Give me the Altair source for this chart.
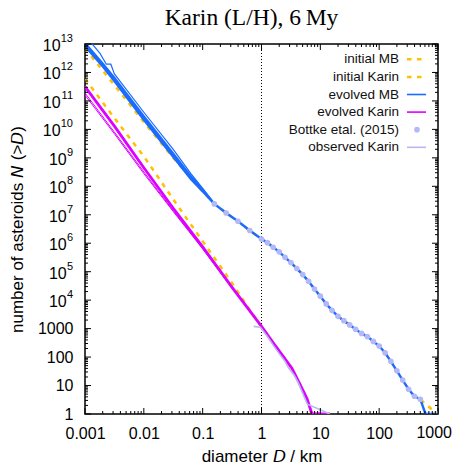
import altair as alt
import pandas as pd

# ---------------- data ----------------
bottke_D = [0.158, 0.251, 0.398, 0.631, 1.0, 1.26, 1.58, 2.0, 2.51, 3.16, 3.98, 5.01, 6.31, 7.94,
            10.0, 12.6, 15.8, 20.0, 25.1, 31.6, 39.8, 50.1, 63.1, 79.4,
            100, 126, 158, 200, 251, 316, 398, 501, 966]
bottke_N = [2.4e7, 1.15e7, 5.9e6, 2.8e6, 1.41e6, 1.05e6, 7.2e5, 5.0e5, 3.2e5, 2.1e5, 1.29e5, 7.9e4, 4.6e4, 2.45e4,
            1.38e4, 7400, 4400, 2700, 1900, 1350, 950, 680, 525, 355,
            245, 141, 71, 33, 15.5, 7.4, 4.2, 3.3, 1]

init_mb_D = [0.001, 0.00316, 0.01, 0.0316, 0.1] + bottke_D
init_mb_N = [7.0e12, 3.6e11, 1.8e10, 1.0e9, 6.5e7] + bottke_N

init_karin_D = [0.001, 0.00316, 0.01, 0.0316, 0.1, 0.316, 0.631, 1.0, 1.58, 2.37, 3.3, 4.47, 5.92, 7.2, 14.5]
init_karin_N = [6.0e11, 2.5e10, 1.12e9, 3.5e7, 1.17e6, 4.0e4, 4500, 1200, 316, 102, 40, 11.5, 3.5, 1, 1]

evo_mb_D = [0.001, 0.002, 0.00316, 0.01, 0.0316, 0.0631, 0.1] + bottke_D[:-1] + [613, 980]
evo_mb_N = [9.5e12, 1.85e12, 5.75e11, 2.5e10, 1.26e9, 2.0e8, 7.1e7] + bottke_N[:-1] + [1, 1]

# other evolved-MB runs (small sizes only, they merge with the main run near 0.16 km)
evo_mb_runs_D = [0.001, 0.002, 0.00316, 0.01, 0.0316, 0.0631, 0.1, 0.158]
evo_mb_run3_N = [8.1e12, 1.6e12, 4.9e11, 2.1e10, 1.07e9, 1.75e8, 6.5e7, 2.4e7]
evo_mb_run4_N = [1.1e13, 2.1e12, 6.6e11, 2.9e10, 1.45e9, 2.3e8, 7.8e7, 2.4e7]

evo_mb2_D = [0.001, 0.0018, 0.0023, 0.00275, 0.00316, 0.01, 0.0316, 0.0631, 0.1, 0.158]
evo_mb2_N = [2.0e13, 4.7e12, 1.95e12, 1.95e12, 8.9e11, 4.0e10, 2.0e9, 2.8e8, 8.5e7, 2.5e7]

evo_karin_D = [0.001, 0.00316, 0.01, 0.0316, 0.1, 0.316, 1.0, 1.58, 2.37, 3.3, 4.47, 5.92, 7.2, 14.5]
evo_karin_N = [3.2e11, 1.3e10, 4.5e8, 1.7e7, 7.4e5, 2.8e4, 1200, 316, 102, 40, 11.5, 3.5, 1, 1]

evo_karin2_D = [0.001, 0.00316, 0.01, 0.0316, 0.1, 0.316, 1.0]
evo_karin2_N = [1.6e11, 7.0e9, 2.8e8, 1.3e7, 6.3e5, 2.6e4, 1200]
evo_karin3_N = [1.9e11, 8.0e9, 3.2e8, 1.4e7, 6.6e5, 2.7e4, 1200]

obs_karin_D = [0.734, 0.955, 1.26, 1.58, 2.0, 2.51, 2.88, 3.55, 4.17, 4.9, 6.03, 14.5]
obs_karin_N = [1200, 1120, 525, 263, 132, 71, 42, 24, 13.2, 6.0, 2.2, 1]

legend_labels = ["initial MB", "initial Karin", "evolved MB", "evolved Karin",
                 "Bottke etal. (2015)", "observed Karin"]
legend_kinds = ["dash", "dash", "line", "line", "point", "line"]

title_text = "Karin (L/H), 6\u2009My"
x_tick_values = [0.001, 0.01, 0.1, 1, 10, 100, 1000]
y_plain_values = [1, 10, 100, 1000]
y_pow_values = [1e4, 1e5, 1e6, 1e7, 1e8, 1e9, 1e10, 1e11, 1e12, 1e13]
y_pow_exps = ["4", "5", "6", "7", "8", "9", "10", "11", "12", "13"]

# ---------------- styles ----------------
YEL = "#ffc000"
BLUE = "#1a6cff"
MAG = "#dc00ff"
LAV = "#b4b8f6"
LAVL = "#b8b8f0"
legend_colors = [YEL, YEL, BLUE, MAG, LAV, LAVL]
FONT = "Liberation Sans"
W, H = 353, 370

xs = alt.Scale(type="log", domain=[0.001, 1000])
ys = alt.Scale(type="log", domain=[1, 1e13])
x_title = "diameter 𝘋 / km"
y_title = "number of asteroids 𝘕 (>𝘋)"
x_axis = alt.Axis(values=x_tick_values, labelExpr="datum.value >= 1000 ? '' : format(datum.value, '~g')",
                  ticks=False, tickSize=0,
                  domain=False, grid=False, labelFontSize=16, labelPadding=11, titleFontSize=17,
                  titleFontWeight="normal", titlePadding=7, labelFlush=False)
y_axis = alt.Axis(values=y_plain_values, format="d", ticks=False, tickSize=0, domain=False, grid=False,
                  labelFontSize=16, labelPadding=12, titleFontSize=17, titleFontWeight="normal",
                  titlePadding=11)


def X():
    return alt.X("D:Q", scale=xs, axis=x_axis, title=x_title)


def Y():
    return alt.Y("N:Q", scale=ys, axis=y_axis, title=y_title)


def df_of(D, N, run="a"):
    return pd.DataFrame({"D": D, "N": N, "run": run})


def line(df, color, width, dash=None):
    kw = dict(color=color, strokeWidth=width, clip=True)
    if dash is not None:
        kw["strokeDash"] = dash
    return alt.Chart(df).mark_line(**kw).encode(x=X(), y=Y(), detail="run:N")


layers = []
# dotted line at D = 1 km
layers.append(alt.Chart(pd.DataFrame({"D": [1]})).mark_rule(color="black", strokeDash=[1, 2], strokeWidth=1)
              .encode(x=X(), y=alt.value(0), y2=alt.value(H)))

layers.append(line(df_of(init_mb_D, init_mb_N), YEL, 2.5, [4.5, 5.5]))
layers.append(line(df_of(init_karin_D, init_karin_N), YEL, 2.5, [4.5, 5.5]))
layers.append(line(df_of(evo_mb2_D, evo_mb2_N), BLUE, 1.2))
layers.append(line(pd.concat([df_of(evo_mb_runs_D, evo_mb_run3_N, "c"),
                              df_of(evo_mb_runs_D, evo_mb_run4_N, "d")]), BLUE, 2.0))
layers.append(line(df_of(evo_mb_D, evo_mb_N), BLUE, 2.4))
layers.append(line(pd.concat([df_of(evo_karin2_D, evo_karin2_N, "b"),
                              df_of(evo_karin2_D, evo_karin3_N, "c")]), MAG, 1.0))
layers.append(line(df_of(evo_karin_D, evo_karin_N), MAG, 2.8))
layers.append(alt.Chart(df_of(bottke_D, bottke_N)).mark_circle(color=LAV, size=32, opacity=1, clip=True)
              .encode(x=X(), y=Y()))
layers.append(line(df_of(obs_karin_D, obs_karin_N), LAVL, 1.6))

# inward ticks on all four sides
x_minor = [k * 10.0 ** e for e in range(-3, 3) for k in range(2, 10)]
y_major = [10.0 ** e for e in range(0, 14)]
y_minor = [k * 10.0 ** e for e in range(0, 13) for k in range(2, 10)]
for vals, ln in ((x_tick_values, 6), (x_minor, 3)):
    d = pd.DataFrame({"D": vals})
    layers.append(alt.Chart(d).mark_rule(color="black", strokeWidth=1)
                  .encode(x=X(), y=alt.value(H), y2=alt.value(H - ln)))
    layers.append(alt.Chart(d).mark_rule(color="black", strokeWidth=1)
                  .encode(x=X(), y=alt.value(0), y2=alt.value(ln)))
for vals, ln in ((y_major, 6), (y_minor, 3)):
    d = pd.DataFrame({"N": vals})
    layers.append(alt.Chart(d).mark_rule(color="black", strokeWidth=1)
                  .encode(y=Y(), x=alt.value(0), x2=alt.value(ln)))
    layers.append(alt.Chart(d).mark_rule(color="black", strokeWidth=1)
                  .encode(y=Y(), x=alt.value(W), x2=alt.value(W - ln)))

# last x label ("1000") kept inside the page
layers.append(alt.Chart(pd.DataFrame({"D": [1000]})).mark_text(
    align="right", baseline="top", fontSize=16, font=FONT, dx=14, color="black")
    .encode(x=X(), y=alt.value(H + 11), text=alt.value("1000")))

# power-of-ten labels with superscripts
pow_df = pd.DataFrame({"N": y_pow_values, "e": y_pow_exps})
layers.append(alt.Chart(pow_df).transform_filter("length(datum.e) == 1")
              .mark_text(align="right", baseline="middle", fontSize=16, font=FONT, dy=2)
              .encode(y=Y(), x=alt.value(-12 - 6.3), text=alt.value("10")))
layers.append(alt.Chart(pow_df).transform_filter("length(datum.e) == 2")
              .mark_text(align="right", baseline="middle", fontSize=16, font=FONT, dy=2)
              .encode(y=Y(), x=alt.value(-12 - 12.4), text=alt.value("10")))
layers.append(alt.Chart(pow_df)
              .mark_text(align="right", baseline="middle", fontSize=11, font=FONT, dy=-5)
              .encode(y=Y(), x=alt.value(-12), text="e:N"))

# chart title (serif), placed just above the frame
layers.append(alt.Chart(pd.DataFrame({"t": [title_text]})).mark_text(
    align="center", baseline="alphabetic", fontSize=23.5, font="Liberation Serif", color="black")
    .encode(x=alt.value(W / 2 - 10), y=alt.value(-19), text="t:N"))

data_layer = alt.layer(*layers)

# legend (top right, symbols on the right of the labels)
leg_df = pd.DataFrame({"label": legend_labels, "row": list(range(len(legend_labels))),
                       "color": legend_colors, "kind": legend_kinds})
leg_y = alt.Y("row:O", scale=alt.Scale(type="point", range=[15.3, 103.3], padding=0), axis=None)
leg_text = alt.Chart(leg_df).mark_text(align="right", baseline="middle", fontSize=13.5, font=FONT,
                                       color="#111111").encode(x=alt.value(314), y=leg_y, text="label:N")
leg_dash = alt.Chart(leg_df).transform_filter("datum.kind == 'dash'").mark_rule(
    strokeWidth=2.5, strokeDash=[4.5, 5.5]).encode(
    x=alt.value(322), x2=alt.value(341), y=leg_y, color=alt.Color("color:N", scale=None))
leg_line = alt.Chart(leg_df).transform_filter("datum.kind == 'line'").mark_rule(
    strokeWidth=1.6).encode(
    x=alt.value(322), x2=alt.value(341), y=leg_y, color=alt.Color("color:N", scale=None))
leg_pt = alt.Chart(leg_df).transform_filter("datum.kind == 'point'").mark_circle(
    size=32, opacity=1).encode(x=alt.value(332), y=leg_y, color=alt.Color("color:N", scale=None))
legend_layer = alt.layer(leg_text, leg_dash, leg_line, leg_pt)

chart = alt.layer(data_layer, legend_layer).resolve_scale(y="independent").properties(
    width=W, height=H,
    autosize=alt.AutoSizeParams(type="none"),
    padding={"left": 77, "top": 36, "right": 15, "bottom": 50},
).configure_view(stroke="black", strokeWidth=1.5).configure_axis(
    labelFont=FONT, titleFont=FONT, labelColor="black", titleColor="black")

chart.save("out.html", embed_options={"renderer": "svg", "actions": False})
